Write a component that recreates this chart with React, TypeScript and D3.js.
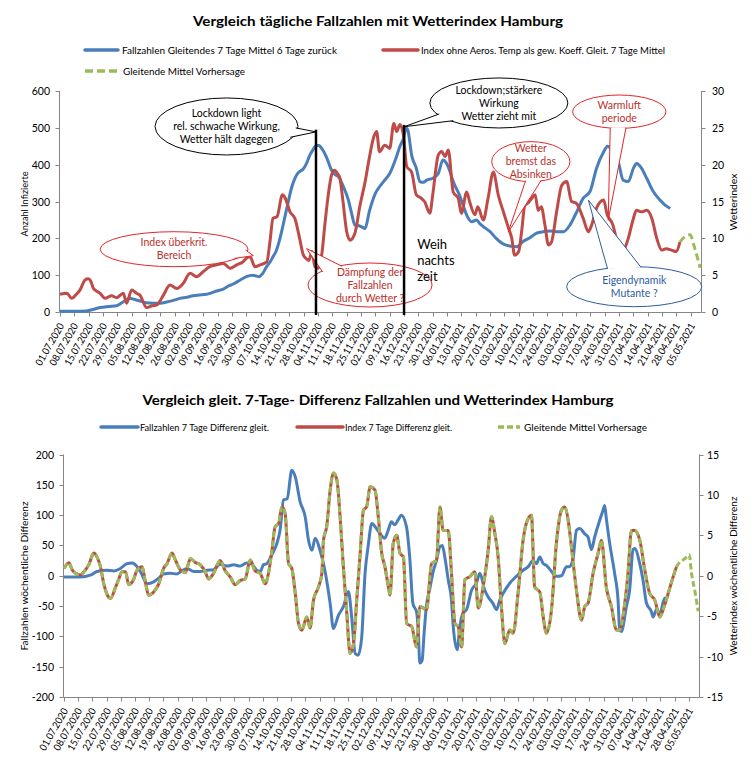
import React from 'react';
import * as d3 from 'd3';

const FONT = "Lato, 'Open Sans', 'DejaVu Sans', sans-serif";
const BLUE = '#4a7ebb';
const RED = '#be4b48';
const GREEN = '#9bbb59';
const AXIS = '#868686';

// weekly category labels (day offset = index * 7 from 01.07.2020)
const dateLabels = [
  '01.07.2020', '08.07.2020', '15.07.2020', '22.07.2020', '29.07.2020', '05.08.2020', '12.08.2020',
  '19.08.2020', '26.08.2020', '02.09.2020', '09.09.2020', '16.09.2020', '23.09.2020', '30.09.2020',
  '07.10.2020', '14.10.2020', '21.10.2020', '28.10.2020', '04.11.2020', '11.11.2020', '18.11.2020',
  '25.11.2020', '02.12.2020', '09.12.2020', '16.12.2020', '23.12.2020', '30.12.2020', '06.01.2021',
  '13.01.2021', '20.01.2021', '27.01.2021', '03.02.2021', '10.02.2021', '17.02.2021', '24.02.2021',
  '03.03.2021', '10.03.2021', '17.03.2021', '24.03.2021', '31.03.2021', '07.04.2021', '14.04.2021',
  '21.04.2021', '28.04.2021', '05.05.2021',
];

const topLeftTicks = [0, 100, 200, 300, 400, 500, 600];
const topRightTicks = [0, 5, 10, 15, 20, 25, 30];
const botLeftTicks = [-200, -150, -100, -50, 0, 50, 100, 150, 200];
const botRightTicks = [-15, -10, -5, 0, 5, 10, 15];

// [day offset from 01.07.2020, value]
const casesAvg: [number, number][] = [
  [0, 2], [6, 2], [13, 3], [16, 7], [19.5, 12], [24, 15], [27.7, 17], [31, 28], [34, 37], [36.5, 34],
  [39, 30], [42, 25], [45.6, 24], [49, 24], [52, 27], [55, 31], [58.6, 37], [62, 40], [65, 44], [68, 46],
  [71.6, 48], [74, 52], [76.5, 57], [80, 63], [82, 70], [84.6, 76], [88, 87], [91, 96], [94, 100], [97, 96],
  [99, 105], [100.9, 123], [102.5, 135], [104, 150], [105.5, 165], [107, 191], [108.5, 225], [110, 263],
  [111.5, 300], [113, 336], [114.5, 360], [116, 376], [119, 390], [120.5, 405], [122, 426], [123.5, 440],
  [125, 452], [126.5, 452], [127.8, 444], [130, 422], [132.6, 385], [134.5, 372], [136, 367], [138, 345],
  [139.5, 325], [140.8, 304], [142.5, 265], [144, 236], [145.5, 235], [147, 232], [149, 227], [151, 272],
  [152.5, 300], [154, 322], [156, 340], [158, 354], [161, 376], [164, 417], [166, 450], [167.7, 471],
  [169, 500], [170, 490], [171.7, 426], [174, 390], [175.7, 354], [177.5, 352], [179, 358], [182, 363],
  [184.7, 376], [187, 413], [188.8, 403], [190.5, 380], [192, 354], [195, 318], [196.8, 290], [198.6, 263],
  [201, 245], [203.4, 250], [205, 240], [206.7, 232], [210, 218], [213, 200], [216, 186], [219.7, 179],
  [223, 177], [226, 191], [229, 200], [232.7, 214], [236, 218], [239, 220], [242.5, 218], [245.8, 218],
  [249, 236], [252, 268], [255.5, 309], [258.8, 327], [262, 390], [265.5, 435], [267.4, 450], [270, 435],
  [272.6, 408], [275, 358], [277.5, 354], [280, 390], [281.5, 403], [284, 390], [286.5, 363], [289.7, 327],
  [293, 304], [295.5, 290], [298, 281],
];

const indexAvg: [number, number][] = [
  [0, 2.4], [3.3, 2.55], [5.7, 1.85], [8, 2.4], [9.8, 3], [12.2, 4.35], [13.8, 4.5], [15, 4.2], [16.3, 3.2],
  [19.5, 2.55], [22, 1.85], [25.2, 2.2], [27.7, 1.95], [30.9, 2.55], [32.5, 1.2], [35, 3], [37.4, 2.55],
  [39, 2.3], [42.3, 0.6], [45, 0.85], [47.2, 0.95], [50.5, 2.3], [53.7, 3.65], [57, 3.2], [60.2, 3.9],
  [63.5, 5.25], [66.7, 4.8], [70, 5.5], [73.2, 6.15], [76.5, 6.4], [79.8, 6.6], [83, 5.95], [86.3, 6.4],
  [89.5, 6.85], [91, 7.3], [92.8, 7.5], [95.2, 6.15], [97.7, 6.4], [101, 6.8], [102.5, 9.5], [104, 12.7],
  [106, 12.95], [108.6, 15.9], [110, 15.45], [112.3, 13.6], [114.7, 12.7], [117, 10], [118.8, 7.75],
  [120, 7.3], [121.5, 7.0], [123, 8.2], [124.5, 6.15], [126, 5.95], [128, 8.2], [129.3, 11.8], [131, 15.9],
  [132.6, 18.6], [134, 19.25], [135.5, 18.8], [136.7, 18.15], [138, 15.45], [140, 10.9], [141.6, 9.75],
  [144, 10.7], [146.5, 14.5], [149, 17.7], [151, 20.85], [153, 23.55], [154.6, 24.5], [156, 21.75],
  [158.6, 22.65], [161, 22.2], [163, 25.6], [164.4, 24.5], [166, 25.45], [167.7, 24], [169.3, 19.75],
  [171.7, 19], [174, 15.9], [176.6, 15.4], [178, 15], [180.6, 13.4], [182, 15.9], [184.7, 21.3],
  [186.4, 21.8], [188, 21.1], [189.6, 22], [192, 16.3], [194.5, 15.4], [196, 13.4], [198.6, 16.3],
  [200, 15], [202.6, 13.2], [204, 14.3], [206.7, 12.5], [209, 15.4], [211.6, 19], [214, 15.9],
  [216.5, 13.6], [219, 11.4], [220.6, 10], [222, 7.7], [224, 8.2], [225.4, 10.9], [227, 14.5],
  [228.6, 14.8], [230.3, 15.4], [232, 15.9], [233.5, 13.8], [235, 14.3], [236.8, 11.8], [238.5, 9.1],
  [240, 9.5], [242.5, 13.6], [245, 17.2], [247.4, 17.7], [249.8, 15], [252, 14.8], [255.5, 12.7],
  [258, 10.9], [259.6, 11.8], [262, 14.1], [265.5, 15.2], [267, 13.4], [270, 11.8], [272, 9.5],
  [273.4, 7.7], [275, 8.2], [277.5, 10], [280, 12.7], [281.5, 13.8], [284, 13.6], [286.5, 13.8],
  [289, 12.7], [291.4, 10], [293.8, 8.4], [296, 8.6], [298.6, 8.4], [301, 8.2], [302.7, 9.5],
];

const indexForecast: [number, number][] = [
  [302.7, 9.5], [305, 10.2], [307.6, 10.5], [310, 8.6], [312.6, 6.0],
];

const casesDiff: [number, number][] = [
  [0, -2], [8, -2], [13, 1], [16.3, 7], [21, 9], [24.5, 8], [27.8, 12], [31, 20], [33.5, 21], [36, 15],
  [37.6, 7], [41, -13], [44.2, -10], [46.7, -4], [49, 3], [52.4, 4], [55.7, 3], [58.1, 8], [60.6, 12],
  [64, 7], [67, 7], [70.5, 9], [73.7, 10], [77, 19], [80.3, 16], [83.6, 18], [86.9, 16], [90, 21],
  [92.6, 19], [95, 9], [96.7, 7], [98.3, 18], [100, 20], [102.5, 35], [104.9, 53], [106.5, 75],
  [108.2, 125], [110, 127], [112.3, 174], [114, 163], [116.4, 122], [118.9, 97], [120.5, 59], [122.2, 42],
  [123.8, 62], [126.2, 42], [128.7, 7], [131.2, -46], [132.8, -87], [135.3, -65], [137.7, -51],
  [140.2, -26], [141.8, -68], [143.5, -128], [145, -131], [146.7, -103], [148.4, 4], [150, 51],
  [151.7, 86], [154, 78], [155.7, 70], [158.1, 62], [159.8, 75], [161.4, 89], [163, 84], [164.7, 92],
  [166.3, 100], [168.8, 81], [170.4, 31], [172, -46], [173.8, -60], [174.6, -89], [175.4, -144],
  [176.5, -140], [177.5, -95], [178.6, -51], [180.4, -20], [182, 7], [183.6, 25], [185.3, 48],
  [186.5, 50], [187.7, 31], [189.4, -7], [191, -40], [192, -89], [193.8, -122], [195.1, -84],
  [196.6, -62], [198.4, -56], [200.9, -24], [203.3, -12], [205, 4], [207.4, -24], [209.1, -35],
  [211.5, -46], [213.2, -56], [214.8, -40], [216.5, -29], [219.8, -12], [223, -1], [226.3, 9],
  [228.8, 15], [231.2, 25], [232.9, 20], [234.5, 31], [236.2, 20], [237.8, 17], [240.3, 7],
  [242.7, -1], [245.2, 0], [247.7, 15], [249.2, 15], [250.9, 28], [252.6, 75], [254.2, 78],
  [256.7, 69], [258.3, 64], [260, 43], [261.6, 64], [264.1, 92], [265.7, 108], [266.5, 116],
  [267.3, 95], [269, 53], [271.4, 4], [273.1, -40], [273.9, -89], [274.7, -92], [277.2, -51],
  [278.8, -24], [280.5, 43], [281.3, 45], [283.8, 20], [285.4, -7], [287.1, -45], [289.5, -59],
  [290.4, -68], [292, -56], [293.7, -62], [296.1, -37], [296.9, -37],
];

const indexDiff: [number, number][] = [
  [0, 0.9], [2.4, 1.6], [4, 0.75], [5.7, 0.3], [8.1, 0.1], [9.8, 0.5], [12.2, 1.35], [14.7, 2.8],
  [16.3, 2.3], [18, 1.1], [19.6, -1], [21.2, -2.3], [22.9, -2.8], [25.3, -1.5], [27, -0.4], [28.6, 0.5],
  [30.3, 0.5], [31.9, -1.1], [34.4, -0.4], [36, 0.7], [38.5, 1.1], [40.1, -0.75], [41.7, -2.4],
  [44.2, -2], [46.7, -1], [49.1, 0.9], [50.8, 1.5], [53.2, 2.8], [54.9, 1.95], [57.3, 0.75], [59.8, 0.4],
  [62.3, 2.1], [64.7, 1.65], [67.2, 1.35], [69.6, 0.5], [71.3, -0.4], [73.7, 0.3], [77, 1.9],
  [79.5, 0.6], [81.9, -0.15], [84.4, -1.1], [86.8, -0.6], [89.3, -0.4], [91.8, 1.95], [94.2, 0.6],
  [96.7, 0.3], [99.2, -1], [100.8, 0.3], [102.5, 3.15], [104.1, 6.1], [105.8, 6.45], [107.4, 8.55],
  [109, 7.7], [110.7, 1.5], [112.3, 0.9], [114, -2.2], [115.6, -5.9], [117.2, -6.75], [119.7, -5.1],
  [121.3, -6.45], [123, -3], [125.5, -1.35], [127.1, 0.3], [127.9, 4.4], [129.5, 6.1], [131.2, 10.6],
  [132.8, 12.7], [134.5, 11.85], [136.1, 7.3], [137.7, 1.1], [139.4, -4.65], [141, -9.6], [142.7, -8.4],
  [144.3, -3], [146, 2.8], [147.6, 8.1], [149.2, 8.55], [150.9, 11], [153.3, 10.6], [154.9, 7.3],
  [156.6, 2.8], [158.2, 1.1], [159.9, -1.4], [160.7, -2.4], [162.3, 4], [164, 5], [165.6, 2.8],
  [167.3, 2.3], [168.9, -5.9], [171.4, -6.3], [173.8, -8.8], [175.4, -3.8], [178.7, -4.2], [181.2, 1.5],
  [183.6, 1.9], [185.3, 8.5], [186.9, 5.6], [189.4, 5.6], [191, 0.3], [192.7, -5.9], [194.3, -6.3],
  [196, -8.8], [197.6, -0.5], [200.1, -0.1], [202.5, 0.5], [204.2, -4], [206.6, -1.4], [209.1, 3.2],
  [210.7, 7.3], [212.4, 5.2], [214, 2.3], [215.6, -3.8], [217.3, -8.4], [219.7, -6.7], [221.4, -7.1],
  [223.8, -2.2], [226.3, 4.4], [227.9, 6.5], [230.4, 7.5], [232, -1.4], [234.5, -2], [236.2, -5.1],
  [237.8, -7.1], [240.3, -4.2], [242.7, 4], [245.2, 8.1], [246.8, 8.5], [248.5, 6.9], [250.1, 3.6],
  [252.6, -1.8], [255.1, -5.5], [256.7, -3.8], [258.3, -3.4], [260.8, 0.3], [263.3, 2.8], [264.9, 4.4],
  [267.3, -1.4], [269.8, -3.8], [272.3, -6.7], [273.9, -6.7], [276.4, -3.4], [278, 0.3], [279.7, 5.6],
  [281.3, 5.6], [283.8, 4.4], [286.3, 0.7], [288.7, -2.2], [291.2, -3], [293.7, -5.1], [295.3, -4.2],
  [297.8, -2.2], [300.3, -0.1], [301.9, 1.1],
];

const indexDiffForecast: [number, number][] = [
  [301.9, 1.1], [303.6, 1.7], [306, 2.1], [308.2, 2.6], [309.3, 0.3], [310.9, -1.8], [312.6, -4.4],
];

// vertical event markers (day offset, top value on left axis)
const eventDays = [125, 168];
const eventTops = [495, 508];

// callouts in data units of the upper chart (day, left-axis value)
const callouts = [
  { cx: 81.3, cy: 503.7, rx: 34.9, ry: 77.4, tip: [125, 489], ang: 13, spread: 10, stroke: '#000', color: '#000',
    lines: ['Lockdown light', 'rel. schwache Wirkung,', 'Wetter hält dagegen'] },
  { cx: 214.3, cy: 567.5, rx: 33.7, ry: 67.9, tip: [168, 503], ang: 143, spread: 10, stroke: '#000', color: '#000',
    lines: ['Lockdown;stärkere', 'Wirkung', 'Wetter zieht mit'] },
  { cx: 55.7, cy: 170.5, rx: 36.1, ry: 47.5, tip: [94.4, 153], ang: 18, spread: 15, stroke: '#e0262a', color: '#b8312c',
    lines: ['Index überkrit.', 'Bereich'] },
  { cx: 151.4, cy: 73.3, rx: 30.3, ry: 59.7, tip: [120.4, 172], ang: -130, spread: 12, stroke: '#e0262a', color: '#b8312c',
    lines: ['Dämpfung der', 'Fallzahlen', 'durch Wetter ?'] },
  { cx: 229.9, cy: 408.2, rx: 19.1, ry: 54.3, tip: [218.9, 217], ang: 86, spread: 12, stroke: '#e0262a', color: '#b8312c',
    lines: ['Wetter', 'bremst das', 'Absinken'] },
  { cx: 273.1, cy: 543.8, rx: 22.8, ry: 45.3, tip: [267.7, 249], ang: 91.5, spread: 10, stroke: '#e0262a', color: '#b8312c',
    lines: ['Warmluft', 'periode'] },
  { cx: 280.4, cy: 68.7, rx: 33, ry: 54.3, tip: [258, 304], ang: -99, spread: 15, stroke: '#2c5d9f', color: '#2c5aa0',
    lines: ['Eigendynamik', 'Mutante ?'] },
];

type Sc = d3.ScaleLinear<number, number>;

function Callout({ c, x, y }: { c: any; x: Sc; y: Sc }) {
  const cx = x(c.cx);
  const cy = y(c.cy);
  const rx = x(c.cx + c.rx) - cx;
  const ry = y(c.cy - c.ry) - cy;
  const k = 0.97;
  const a1 = ((c.ang - c.spread) * Math.PI) / 180;
  const a2 = ((c.ang + c.spread) * Math.PI) / 180;
  const b1 = [cx + k * rx * Math.cos(a1), cy + k * ry * Math.sin(a1)];
  const b2 = [cx + k * rx * Math.cos(a2), cy + k * ry * Math.sin(a2)];
  const tx = x(c.tip[0]);
  const ty = y(c.tip[1]);
  const lh = 13;
  const n = c.lines.length;
  return (
    <g>
      <ellipse cx={cx} cy={cy} rx={rx} ry={ry} fill="#fff" stroke={c.stroke} strokeWidth={1} />
      <path d={`M${b1[0]},${b1[1]}L${tx},${ty}L${b2[0]},${b2[1]}Z`} fill="#fff" stroke="none" />
      <path d={`M${b1[0]},${b1[1]}L${tx},${ty}L${b2[0]},${b2[1]}`} fill="none" stroke={c.stroke} strokeWidth={1} />
      {c.lines.map((t: string, i: number) => (
        <text key={i} x={cx} y={cy + (i - (n - 1) / 2) * lh} dy="0.35em" textAnchor="middle" fontSize={10.5} fill={c.color}>
          {t}
        </text>
      ))}
    </g>
  );
}

function XAxis({ x, y0, x0, x1 }: { x: Sc; y0: number; x0: number; x1: number }) {
  return (
    <g>
      <line x1={x0} x2={x1} y1={y0} y2={y0} stroke={AXIS} strokeWidth={1} />
      {dateLabels.map((lab, i) => {
        const px = Math.round(x(i * 7)) + 0.5;
        return (
          <g key={lab}>
            <line x1={px} x2={px} y1={y0} y2={y0 + 4} stroke={AXIS} strokeWidth={1} />
            <text
              transform={`translate(${px + 1},${y0 + 11.5}) rotate(-60)`}
              dy="0.35em"
              textAnchor="end"
              fontSize={10}
              fill="#000"
              textLength={47}
              lengthAdjust="spacingAndGlyphs"
            >
              {lab}
            </text>
          </g>
        );
      })}
    </g>
  );
}

function YAxis({ y, ticks, xPos, side, labelX }: { y: Sc; ticks: number[]; xPos: number; side: 'left' | 'right'; labelX: number }) {
  const [r0, r1] = y.range();
  return (
    <g>
      <line x1={xPos} x2={xPos} y1={r0} y2={r1} stroke={AXIS} strokeWidth={1} />
      {ticks.map((t) => {
        const py = Math.round(y(t)) + 0.5;
        return (
          <g key={t}>
            <line x1={xPos} x2={side === 'left' ? xPos - 4 : xPos + 4} y1={py} y2={py} stroke={AXIS} strokeWidth={1} />
            <text x={labelX} y={py} dy="0.35em" textAnchor={side === 'left' ? 'end' : 'start'} fontSize={10.5} fill="#000">
              {t}
            </text>
          </g>
        );
      })}
    </g>
  );
}

export default function App() {
  const W = 756;
  const H = 762;

  // upper chart
  const xT = d3.scaleLinear().domain([-0.25, 313.25]).range([59.5, 701.5]);
  const yTL = d3.scaleLinear().domain([0, 600]).range([312, 91]);
  const yTR = d3.scaleLinear().domain([0, 30]).range([312, 91]);

  // lower chart
  const xB = d3.scaleLinear().domain([-0.25, 313.25]).range([63.5, 699.5]);
  const yBL = d3.scaleLinear().domain([-200, 200]).range([697, 454.5]);
  const yBR = d3.scaleLinear().domain([-15, 15]).range([697, 454.5]);

  const mk = (x: Sc, y: Sc) =>
    d3.line<[number, number]>().x((d) => x(d[0])).y((d) => y(d[1])).curve(d3.curveMonotoneX);

  const lineTL = mk(xT, yTL);
  const lineTR = mk(xT, yTR);
  const lineBL = mk(xB, yBL);
  const lineBR = mk(xB, yBR);

  return (
    <svg width={W} height={H} style={{ position: 'absolute', left: 0, top: 0, background: '#fff' }} fontFamily={FONT}>
      <rect x={0} y={0} width={W} height={H} fill="#fff" />

      {/* ===== upper chart ===== */}
      <text x={378} y={26} textAnchor="middle" fontSize={13.5} fontWeight="bold" textLength={370} lengthAdjust="spacingAndGlyphs">
        Vergleich tägliche Fallzahlen mit  Wetterindex Hamburg
      </text>
      <line x1={85} x2={118} y1={50} y2={50} stroke={BLUE} strokeWidth={3.5} strokeLinecap="round" />
      <text x={122} y={50} dy="0.35em" fontSize={10} textLength={215} lengthAdjust="spacingAndGlyphs">
        Fallzahlen Gleitendes 7 Tage Mittel 6 Tage zurück
      </text>
      <line x1={383} x2={418} y1={50} y2={50} stroke={RED} strokeWidth={3.5} strokeLinecap="round" />
      <text x={421} y={50} dy="0.35em" fontSize={10} textLength={244} lengthAdjust="spacingAndGlyphs">
        Index ohne Aeros. Temp als gew. Koeff. Gleit. 7 Tage Mittel
      </text>
      <line x1={85} x2={117} y1={71} y2={71} stroke={GREEN} strokeWidth={3.5} strokeDasharray="8,4" />
      <text x={123} y={71} dy="0.35em" fontSize={10} textLength={122} lengthAdjust="spacingAndGlyphs">
        Gleitende Mittel Vorhersage
      </text>

      <YAxis y={yTL} ticks={topLeftTicks} xPos={59.5} side="left" labelX={50} />
      <YAxis y={yTR} ticks={topRightTicks} xPos={701.5} side="right" labelX={712} />
      <XAxis x={xT} y0={312.5} x0={59.5} x1={701.5} />
      <text transform="translate(24,204) rotate(-90)" textAnchor="middle" dy="0.35em" fontSize={10} textLength={65} lengthAdjust="spacingAndGlyphs">
        Anzahl Infizierte
      </text>
      <text transform="translate(733,202) rotate(-90)" textAnchor="middle" dy="0.35em" fontSize={10} textLength={57} lengthAdjust="spacingAndGlyphs">
        Wetterindex
      </text>

      <path d={lineTL(casesAvg) || ''} fill="none" stroke={BLUE} strokeWidth={3} strokeLinejoin="round" />
      <path d={lineTR(indexAvg) || ''} fill="none" stroke={RED} strokeWidth={3} strokeLinejoin="round" />
      <path d={lineTR(indexForecast) || ''} fill="none" stroke={GREEN} strokeWidth={3} strokeDasharray="7,4" />

      {callouts.map((c, i) => (
        <Callout key={i} c={c} x={xT} y={yTL} />
      ))}

      {eventDays.map((d, i) => (
        <line key={d} x1={xT(d)} x2={xT(d)} y1={yTL(eventTops[i])} y2={yTL(0) + 3} stroke="#000" strokeWidth={2.5} />
      ))}

      {['Weih', 'nachts', 'zeit'].map((t, i) => (
        <text key={t} x={xT(174.4)} y={yTL(139) + (i - 1) * 16} dy="0.35em" fontSize={13} fill="#000">
          {t}
        </text>
      ))}

      {/* ===== lower chart ===== */}
      <text x={378} y={405} textAnchor="middle" fontSize={13.5} fontWeight="bold" textLength={471} lengthAdjust="spacingAndGlyphs">
        Vergleich gleit. 7-Tage- Differenz Fallzahlen und Wetterindex Hamburg
      </text>
      <line x1={101} x2={138} y1={427} y2={427} stroke={BLUE} strokeWidth={3.5} strokeLinecap="round" />
      <text x={140} y={427} dy="0.35em" fontSize={10} textLength={129} lengthAdjust="spacingAndGlyphs">
        Fallzahlen 7 Tage Differenz gleit.
      </text>
      <line x1={297} x2={343} y1={427} y2={427} stroke={RED} strokeWidth={3.5} strokeLinecap="round" />
      <text x={345} y={427} dy="0.35em" fontSize={10} textLength={107} lengthAdjust="spacingAndGlyphs">
        Index 7 Tage Differenz gleit.
      </text>
      <line x1={498} x2={520} y1={427} y2={427} stroke={GREEN} strokeWidth={3.5} strokeDasharray="6,3" />
      <text x={524} y={427} dy="0.35em" fontSize={10} textLength={123} lengthAdjust="spacingAndGlyphs">
        Gleitende Mittel Vorhersage
      </text>

      <YAxis y={yBL} ticks={botLeftTicks} xPos={63.5} side="left" labelX={54} />
      <YAxis y={yBR} ticks={botRightTicks} xPos={699.5} side="right" labelX={707} />
      <XAxis x={xB} y0={697.5} x0={63.5} x1={699.5} />
      <text transform="translate(24,576) rotate(-90)" textAnchor="middle" dy="0.35em" fontSize={10} textLength={149} lengthAdjust="spacingAndGlyphs">
        Fallzahlen wöchentliche Differenz
      </text>
      <text transform="translate(733,576) rotate(-90)" textAnchor="middle" dy="0.35em" fontSize={10} textLength={159} lengthAdjust="spacingAndGlyphs">
        Wetterindex wöchentliche Differenz
      </text>

      <path d={lineBL(casesDiff) || ''} fill="none" stroke={BLUE} strokeWidth={3} strokeLinejoin="round" />
      <path d={lineBR(indexDiff) || ''} fill="none" stroke={RED} strokeWidth={3} strokeLinejoin="round" />
      <path d={lineBR([...indexDiff, ...indexDiffForecast.slice(1)]) || ''} fill="none" stroke={GREEN} strokeWidth={3} strokeDasharray="6,3" />
    </svg>
  );
}
